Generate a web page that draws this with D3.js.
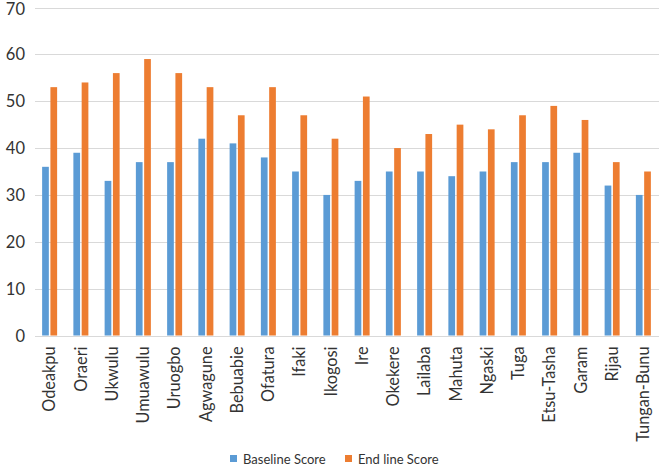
<!DOCTYPE html>
<html>
<head>
<meta charset="utf-8">
<script src="https://cdn.jsdelivr.net/npm/d3@7"></script>
<style>
  html, body { margin: 0; padding: 0; background: #fff; }
  svg { display: block; }
  text { font-family: Lato, "Open Sans", sans-serif; fill: #333; }
</style>
</head>
<body>
<svg id="chart" width="660" height="467"></svg>
<script>
const categories = ["Odeakpu","Oraeri","Ukwulu","Umuawulu","Uruogbo","Agwagune","Bebuabie","Ofatura","Ifaki","Ikogosi","Ire","Okekere","Lailaba","Mahuta","Ngaski","Tuga","Etsu-Tasha","Garam","Rijau","Tungan-Bunu"];
const baselineScore = [36,39,33,37,37,42,41,38,35,30,33,35,35,34,35,37,37,39,32,30];
const endlineScore  = [53,54,56,59,56,53,47,53,47,42,51,40,43,45,44,47,49,46,37,35];
const seriesNames = ["Baseline Score","End line Score"];
const seriesColors = ["#5B9BD5","#ED7D31"];
const yTicks = [0,10,20,30,40,50,60,70];

const svg = d3.select("#chart");
const plotLeft = 34, plotRight = 659, plotTop = 7.5, plotBottom = 335.5;

const x = d3.scaleBand().domain(categories).range([plotLeft, plotRight]).padding(0);
const xs = d3.scaleBand().domain(seriesNames).range([0, x.bandwidth()])
  .paddingInner(0.19).paddingOuter(0.98);
const y = d3.scaleLinear().domain([0, 70]).range([plotBottom, plotTop]);

// gridlines
svg.append("g").selectAll("line").data(yTicks).join("line")
  .attr("x1", plotLeft + 1).attr("x2", plotRight)
  .attr("y1", d => Math.round(y(d)) + 0.5).attr("y2", d => Math.round(y(d)) + 0.5)
  .attr("stroke", "#d9d9d9").attr("stroke-width", 1.2);

// y axis labels
const yAxis = d3.axisLeft(y).tickValues(yTicks).tickSize(0).tickPadding(0);
const gy = svg.append("g").attr("transform", `translate(${plotLeft - 9},0)`).call(yAxis);
gy.select(".domain").remove();
gy.selectAll("text").style("font-size", "16.5px").attr("fill", "#333")
  .style("font-family", 'Lato, sans-serif')
  .attr("dy", d => d === 70 ? "0.45em" : "0.34em");

// bars
const data = categories.map((c, i) => ({cat: c, vals: [baselineScore[i], endlineScore[i]]}));
const groups = svg.append("g").selectAll("g").data(data).join("g")
  .attr("transform", d => `translate(${x(d.cat)},0)`);
groups.selectAll("rect").data(d => d.vals.map((v, j) => ({v, s: seriesNames[j], j})))
  .join("rect")
  .attr("x", d => xs(d.s))
  .attr("width", xs.bandwidth())
  .attr("y", d => y(d.v))
  .attr("height", d => y(0) - y(d.v))
  .attr("fill", d => seriesColors[d.j]);

// x axis labels
const xAxis = d3.axisBottom(x).tickSize(0).tickPadding(0);
const gx = svg.append("g").attr("transform", `translate(0,${plotBottom})`).call(xAxis);
gx.select(".domain").remove();
gx.selectAll("text")
  .style("font-size", "16.3px").style("font-family", 'Lato, sans-serif')
  .attr("fill", "#333")
  .attr("text-anchor", "end")
  .attr("transform", "rotate(-90)")
  .attr("x", -11).attr("y", 0).attr("dy", "0.35em");

// legend
const legendItems = [{name: seriesNames[0], color: seriesColors[0], x: 230},
                     {name: seriesNames[1], color: seriesColors[1], x: 345}];
const lg = svg.append("g").selectAll("g").data(legendItems).join("g")
  .attr("transform", d => `translate(${d.x},459)`);
lg.append("rect").attr("x", 0).attr("y", -4).attr("width", 7).attr("height", 7).attr("fill", d => d.color);
lg.append("text").attr("x", 13).attr("y", 0).attr("dy", "0.36em")
  .style("font-size", "13px").text(d => d.name);
</script>
</body>
</html>
